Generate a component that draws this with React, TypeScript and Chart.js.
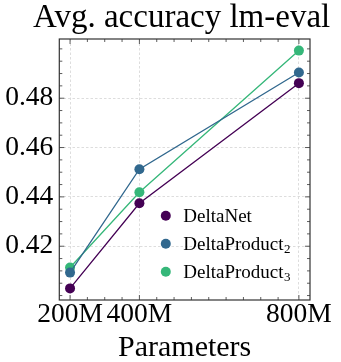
import React, { useEffect, useRef } from 'react';
import { Chart, registerables } from 'chart.js';

Chart.register(...registerables);

const FONT = '"Liberation Serif", "Times New Roman", serif';

const chartTitle = 'Avg. accuracy lm-eval';
const params = [200, 400, 860];
const xTickValues = [200, 400, 860];
const xTickLabels = ['200M', '400M', '800M'];
const yTickValues = [0.42, 0.44, 0.46, 0.48];

const deltaNet = [0.4029, 0.4374, 0.4861];
const deltaProduct2 = [0.4093, 0.4512, 0.4904];
const deltaProduct3 = [0.4114, 0.4419, 0.4993];

const seriesLabels = ['DeltaNet', 'DeltaProduct₂', 'DeltaProduct₃'];
const seriesColors = ['#440154', '#31688e', '#35b779'];
const seriesValues = [deltaNet, deltaProduct2, deltaProduct3];

const SUBS: Record<string, string> = { '₀': '0', '₁': '1', '₂': '2', '₃': '3', '₄': '4' };

const titlePlugin = {
  id: 'plotTitle',
  afterDraw(chart: any) {
    const { ctx, chartArea: a } = chart;
    ctx.save();
    ctx.fillStyle = '#000';
    ctx.font = `33px ${FONT}`;
    ctx.textAlign = 'center';
    ctx.textBaseline = 'alphabetic';
    ctx.fillText(chartTitle, (a.left + a.right) / 2 - 3, a.top - 12.3);
    ctx.restore();
  },
};

const frameTicksPlugin = {
  id: 'frameTicks',
  afterDraw(chart: any) {
    const { ctx, chartArea: a, scales } = chart;
    const xs = scales.x;
    const ys = scales.y;
    ctx.save();
    ctx.strokeStyle = '#333';
    ctx.lineWidth = 0.8;
    const tick = (px: number, horizontal: boolean, len: number) => {
      ctx.beginPath();
      if (horizontal) {
        ctx.moveTo(px, a.bottom); ctx.lineTo(px, a.bottom - len);
        ctx.moveTo(px, a.top); ctx.lineTo(px, a.top + len);
      } else {
        ctx.moveTo(a.left, px); ctx.lineTo(a.left + len, px);
        ctx.moveTo(a.right, px); ctx.lineTo(a.right - len, px);
      }
      ctx.stroke();
    };
    xTickValues.forEach((v) => tick(xs.getPixelForValue(v), true, 5));
    for (let v = 250; v <= 800; v += 50) {
      if (xTickValues.indexOf(v) >= 0) continue;
      tick(xs.getPixelForValue(v), true, 3);
    }
    yTickValues.forEach((v) => tick(ys.getPixelForValue(v), false, 5));
    for (let i = 80; i <= 100; i++) {
      const v = i * 0.005;
      if (v < ys.min || v > ys.max) continue;
      if (yTickValues.some((t) => Math.abs(t - v) < 1e-6)) continue;
      tick(ys.getPixelForValue(v), false, 3);
    }
    ctx.strokeStyle = '#333';
    ctx.lineWidth = 1.2;
    ctx.strokeRect(a.left, a.top, a.right - a.left, a.bottom - a.top);
    ctx.restore();
  },
};

const innerLegendPlugin = {
  id: 'innerLegend',
  afterDraw(chart: any) {
    const { ctx, chartArea: a } = chart;
    const x0 = a.left + 106.5;
    const y0 = a.bottom - 84.3;
    ctx.save();
    chart.data.datasets.forEach((ds: any, i: number) => {
      const y = y0 + i * 28;
      ctx.fillStyle = ds.backgroundColor;
      ctx.beginPath();
      ctx.arc(x0, y, 5, 0, Math.PI * 2);
      ctx.fill();
      const label: string = ds.label;
      let main = label;
      let sub = '';
      const last = label.charAt(label.length - 1);
      if (SUBS[last]) {
        main = label.slice(0, -1);
        sub = SUBS[last];
      }
      ctx.fillStyle = '#000';
      ctx.textBaseline = 'alphabetic';
      ctx.textAlign = 'left';
      ctx.font = `19px ${FONT}`;
      const tx = x0 + 17.5;
      ctx.fillText(main, tx, y + 6.3);
      if (sub) {
        const w = ctx.measureText(main).width;
        ctx.font = `13px ${FONT}`;
        ctx.fillText(sub, tx + w + 0.5, y + 9.5);
      }
    });
    ctx.restore();
  },
};

export default function App() {
  const ref = useRef<HTMLCanvasElement | null>(null);

  useEffect(() => {
    if (!ref.current) return;
    const chart = new Chart(ref.current, {
      type: 'line',
      data: {
        datasets: seriesValues.map((vals, i) => ({
          label: seriesLabels[i],
          data: params.map((x, j) => ({ x, y: vals[j] })),
          borderColor: seriesColors[i],
          backgroundColor: seriesColors[i],
          borderWidth: 1.3,
          pointRadius: 5,
          pointBorderWidth: 0,
          pointBackgroundColor: seriesColors[i],
          tension: 0,
        })),
      },
      options: {
        responsive: false,
        animation: false,
        layout: { padding: { left: 0, right: 31, top: 39, bottom: 0 } },
        plugins: {
          legend: { display: false },
          tooltip: { enabled: false },
          title: { display: false },
        },
        scales: {
          x: {
            type: 'linear',
            min: 169,
            max: 892,
            afterBuildTicks: (s: any) => {
              s.ticks = xTickValues.map((v) => ({ value: v }));
            },
            afterFit: (s: any) => {
              s.height = 62;
            },
            ticks: {
              callback: (_v: any, i: number) => xTickLabels[i],
              color: '#000',
              font: { family: FONT, size: 27.5 },
              padding: -2,
              maxRotation: 0,
              autoSkip: false,
            },
            grid: { color: '#d4d4d4', lineWidth: 0.8, drawTicks: false },
            border: { display: false, dash: [2.5, 2] },
            title: {
              display: true,
              text: 'Parameters',
              color: '#000',
              font: { family: FONT, size: 30, lineHeight: 1 },
              padding: { top: 0, bottom: -1 },
            },
          },
          y: {
            type: 'linear',
            min: 0.3982,
            max: 0.504,
            afterBuildTicks: (s: any) => {
              s.ticks = yTickValues.map((v) => ({ value: v }));
            },
            afterFit: (s: any) => {
              s.width = 59.3;
            },
            ticks: {
              callback: (v: any) => Number(v).toFixed(2),
              color: '#000',
              font: { family: FONT, size: 27.5 },
              padding: 6,
              autoSkip: false,
            },
            grid: { color: '#d4d4d4', lineWidth: 0.8, drawTicks: false },
            border: { display: false, dash: [2.5, 2] },
          },
        },
      },
      plugins: [titlePlugin, frameTicksPlugin, innerLegendPlugin],
    } as any);
    return () => chart.destroy();
  }, []);

  return (
    <div style={{ position: 'absolute', left: 0, top: 0, width: 341, height: 362, background: '#fff' }}>
      <canvas ref={ref} width={341} height={362} style={{ display: 'block' }} />
    </div>
  );
}
